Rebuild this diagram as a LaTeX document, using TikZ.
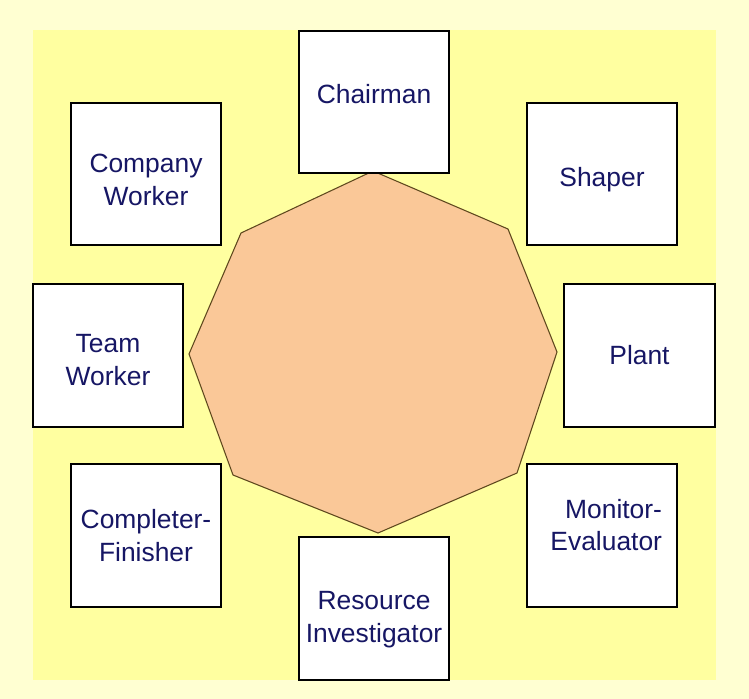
\documentclass[tikz,border=0pt]{standalone}
\usepackage{fontspec}
\setmainfont{Liberation Sans}
\usepackage{tikz}
\usetikzlibrary{positioning}
\definecolor{bgpale}{RGB}{255,255,210}
\definecolor{bgyellow}{RGB}{255,255,160}
\definecolor{octfill}{RGB}{250,200,152}
\definecolor{octline}{RGB}{95,72,30}
\definecolor{rolenavy}{RGB}{22,22,100}
\tikzstyle{role} = [draw=black, line width=1.3pt, fill=white, minimum width=113pt, minimum height=107pt, inner sep=0pt, align=center, text=rolenavy, font=\fontsize{19.8}{24.5}\selectfont]

\begin{document}
\begin{tikzpicture}[x=0.75pt, y=-0.75pt]
% Background
\fill[bgpale] (0,0) rectangle (749,699);
\useasboundingbox (0,0) rectangle (749,699);
\fill[bgyellow] (33,30) rectangle (716,680);

% Octagon
\coordinate (T) at (373,171);
\coordinate (TR) at (508,229);
\coordinate (R) at (557,352);
\coordinate (BR) at (517,473);
\coordinate (B) at (378,533);
\coordinate (BL) at (233,475);
\coordinate (L) at (189,354);
\coordinate (TL) at (241,233);

\draw[line width=0.8pt, draw=octline, fill=octfill] (T) -- (TR) -- (R) -- (BR) -- (B) -- (BL) -- (L) -- (TL) -- cycle;

% Roles
\node[role, text depth=12pt] (chair) at (374,102) {Chairman};
\node[role, text height=47.5pt] (company) at (146,174) {Company\\Worker};
\node[role, text height=23pt] (shaper) at (602,174) {Shaper};
\node[role, text height=44.5pt] (team) at (108,355.5) {Team\\Worker};
\node[role] (plant) at (639.5,355.5) {Plant};
\node[role] (completer) at (146,535.5) {Completer-\\Finisher};
\node[role, text width=90pt, align=right, text depth=40.5pt] (monitor) at (602,535.5) {Monitor-\\Evaluator};
\node[role, text height=55pt] (resource) at (374,608.5) {Resource\\Investigator};
\end{tikzpicture}
\end{document}
